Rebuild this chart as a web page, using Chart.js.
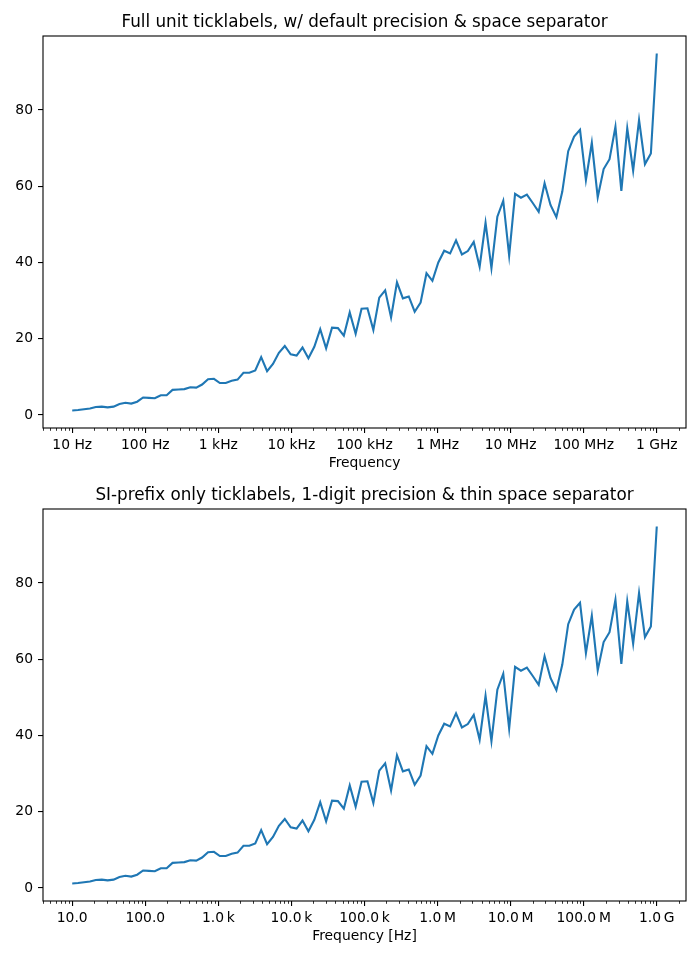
<!DOCTYPE html>
<html>
<head>
<meta charset="utf-8">
<script src="https://cdn.jsdelivr.net/npm/chart.js@4"></script>
<style>
  html, body { margin: 0; padding: 0; background: #fff; }
  #wrap { position: relative; width: 700px; height: 960px; }
  canvas { position: absolute; left: 0; }
</style>
</head>
<body>
<div id="wrap">
  <canvas id="c1" width="700" height="473" style="top:0px"></canvas>
  <canvas id="c2" width="700" height="487" style="top:473px"></canvas>
</div>
<script>
// ---- Data ----
const frequencies = [
  10, 12.0, 14.5, 17.5, 21.0, 25.4, 30.5, 36.8, 44.3, 53.4, 64.3, 77.4, 93.3,
  112, 135, 163, 196, 236, 285, 343, 413, 498, 599, 722, 870,
  1048, 1262, 1520, 1831, 2205, 2656, 3199, 3854, 4642, 5591, 6734, 8111, 9770,
  11768, 14175, 17074, 20565, 24771, 29836, 35938, 43288, 52140, 62802, 75645, 91115,
  1.0975e5, 1.3219e5, 1.5922e5, 1.9179e5, 2.3101e5, 2.7826e5, 3.3516e5, 4.0370e5, 4.8626e5, 5.8570e5, 7.0548e5, 8.4975e5,
  1.0235e6, 1.2328e6, 1.4850e6, 1.7886e6, 2.1544e6, 2.5950e6, 3.1257e6, 3.7649e6, 4.5348e6, 5.4622e6, 6.5793e6, 7.9248e6, 9.5455e6,
  1.1498e7, 1.3849e7, 1.6681e7, 2.0092e7, 2.4201e7, 2.9150e7, 3.5112e7, 4.2292e7, 5.0941e7, 6.1359e7, 7.3907e7, 8.9022e7,
  1.0723e8, 1.2915e8, 1.5557e8, 1.8738e8, 2.2570e8, 2.7186e8, 3.2745e8, 3.9442e8, 4.7508e8, 5.7224e8, 6.8926e8, 8.3022e8,
  1e9
];
const values = [
  1.2, 1.3, 1.5, 1.7, 2.1, 2.2, 2.0, 2.2, 2.9, 3.2, 3.0, 3.5, 4.6,
  4.5, 4.4, 5.2, 5.2, 6.6, 6.7, 6.8, 7.3, 7.2, 8.0, 9.4, 9.5,
  8.4, 8.4, 9.0, 9.3, 11.1, 11.1, 11.7, 15.2, 11.5, 13.4, 16.3, 18.1, 15.9,
  15.6, 17.7, 14.9, 17.9, 22.5, 17.5, 22.9, 22.8, 20.8, 26.9, 21.3, 27.9,
  28.0, 22.3, 30.8, 32.7, 25.6, 34.8, 30.6, 31.1, 27.1, 29.5, 37.2, 35.2,
  40.0, 43.1, 42.4, 45.8, 42.1, 43.0, 45.4, 38.9, 50.4, 38.5, 52.0, 56.2, 41.8,
  58.0, 57.0, 57.8, 55.6, 53.3, 60.8, 55.1, 51.9, 58.6, 69.2, 73.0, 74.8,
  61.6, 71.4, 57.1, 64.5, 67.1, 75.6, 58.8, 75.2, 64.1, 77.4, 65.8, 68.6,
  94.8
];
const majorTickValues = [10, 100, 1e3, 1e4, 1e5, 1e6, 1e7, 1e8, 1e9];
const topTickLabels = ['10 Hz', '100 Hz', '1 kHz', '10 kHz', '100 kHz', '1 MHz', '10 MHz', '100 MHz', '1 GHz'];
const bottomTickLabels = ['10.0', '100.0', '1.0\u2009k', '10.0\u2009k', '100.0\u2009k', '1.0\u2009M', '10.0\u2009M', '100.0\u2009M', '1.0\u2009G'];
const yTickValues = [0, 20, 40, 60, 80];
const titles = [
  'Full unit ticklabels, w/ default precision & space separator',
  'SI-prefix only ticklabels, 1-digit precision & thin space separator'
];
const xTitles = ['Frequency', 'Frequency [Hz]'];
const xMin = 3.981, xMax = 2.512e9;
const yMin = -3.4, yMax = 99.4;

const FONT = 'DejaVu Sans';
const points = frequencies.map((f, i) => ({ x: f, y: values[i] }));

const framePlugin = {
  id: 'frame',
  afterDraw(chart, args, opts) {
    const { ctx, chartArea: a } = chart;
    const xs = chart.scales.x;
    ctx.save();
    // minor ticks
    ctx.strokeStyle = '#000';
    ctx.lineWidth = 0.8;
    ctx.beginPath();
    for (let d = 1; d <= 1e9; d *= 10) {
      for (let m = 2; m <= 9; m++) {
        const v = m * d;
        if (v < xMin || v > xMax) continue;
        const px = Math.round(xs.getPixelForValue(v)) + 0.5;
        ctx.moveTo(px, a.bottom);
        ctx.lineTo(px, a.bottom + 2.8);
      }
    }
    ctx.stroke();
    // frame
    ctx.lineWidth = 1.1;
    ctx.strokeRect(a.left, a.top, a.right - a.left, a.bottom - a.top);
    // axes title, centred over the axes (as matplotlib does)
    ctx.fillStyle = '#000';
    ctx.font = '16.8px "' + FONT + '"';
    ctx.textAlign = 'center';
    ctx.textBaseline = 'middle';
    ctx.fillText(opts.text, (a.left + a.right) / 2, a.top - 13);
    ctx.restore();
  }
};

function makeChart(id, idx, tickLabels) {
  return new Chart(document.getElementById(id), {
    type: 'line',
    data: {
      datasets: [{
        data: points,
        borderColor: '#1f77b4',
        borderWidth: 2.1,
        pointRadius: 0,
        fill: false,
        tension: 0
      }]
    },
    options: {
      responsive: false,
      animation: false,
      devicePixelRatio: 1,
      layout: { padding: { left: 0, right: 14, top: 36, bottom: idx === 0 ? 0 : 14 } },
      plugins: {
        legend: { display: false },
        tooltip: { enabled: false },
        title: { display: false },
        frame: { text: titles[idx] }
      },
      scales: {
        x: {
          type: 'logarithmic',
          min: xMin,
          max: xMax,
          afterBuildTicks: s => { s.ticks = majorTickValues.map(v => ({ value: v })); },
          afterFit: s => { s.height = 45; },
          grid: { display: true, drawOnChartArea: false, drawTicks: true, tickLength: 5, color: '#000', lineWidth: 1.1 },
          border: { display: false },
          ticks: {
            autoSkip: false, maxRotation: 0, minRotation: 0, padding: 4,
            color: '#000', font: { family: FONT, size: 13.89 },
            callback: (v, i) => tickLabels[i]
          },
          title: {
            display: true, text: xTitles[idx], color: '#000',
            font: { family: FONT, size: 13.89 }, padding: { top: 0, bottom: 1 }
          }
        },
        y: {
          min: yMin,
          max: yMax,
          afterBuildTicks: s => { s.ticks = yTickValues.map(v => ({ value: v })); },
          afterFit: s => { s.width = 43; },
          grid: { display: true, drawOnChartArea: false, drawTicks: true, tickLength: 5, color: '#000', lineWidth: 1.1 },
          border: { display: false },
          ticks: {
            padding: 5, color: '#000', font: { family: FONT, size: 13.89 },
            callback: v => String(v)
          }
        }
      }
    },
    plugins: [framePlugin]
  });
}

makeChart('c1', 0, topTickLabels);
makeChart('c2', 1, bottomTickLabels);
</script>
</body>
</html>
